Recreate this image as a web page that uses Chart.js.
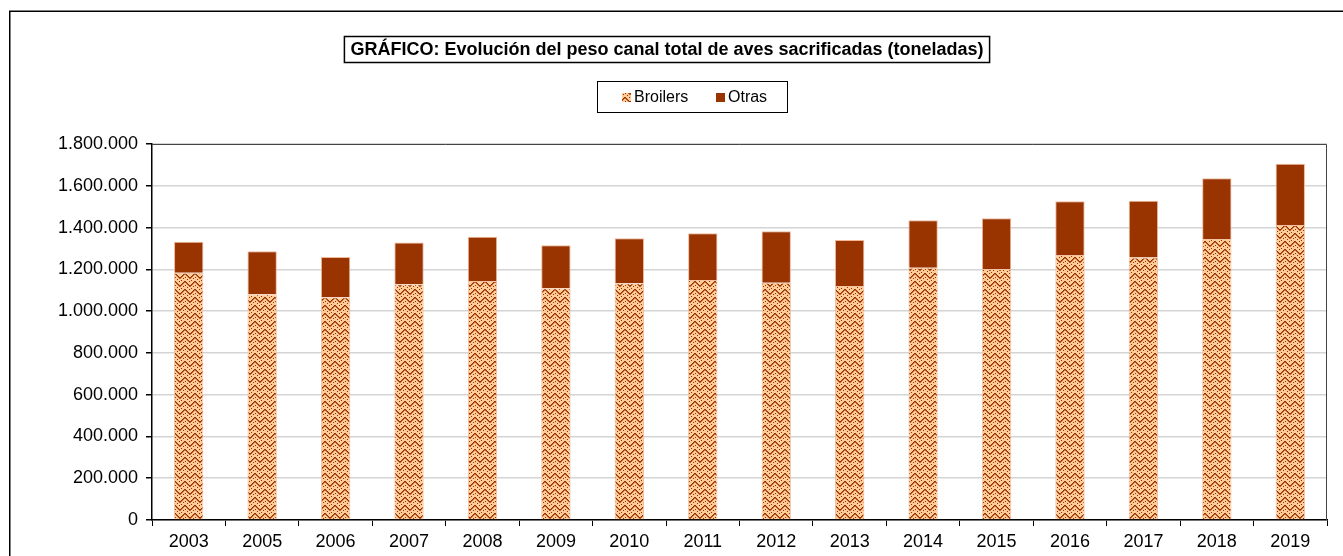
<!DOCTYPE html>
<html>
<head>
<meta charset="utf-8">
<script src="https://cdn.jsdelivr.net/npm/chart.js@4.4.1/dist/chart.umd.min.js"></script>
<style>
  html, body { margin: 0; padding: 0; background: #fff; overflow: hidden; }
  canvas { display: block; }
</style>
</head>
<body>
<canvas id="chart" width="1343" height="556"></canvas>
<script>
// values (toneladas)
const years = ['2003', '2005', '2006', '2007', '2008', '2009', '2010', '2011',
               '2012', '2013', '2014', '2015', '2016', '2017', '2018', '2019'];
const broilers = [1184000, 1081000, 1066000, 1129000, 1144000, 1110000, 1133000, 1149000,
                  1136000, 1120000, 1208000, 1201000, 1269000, 1257000, 1345000, 1412000];
const otras = [148000, 205000, 193000, 199000, 212000, 205000, 216000, 224000,
               246000, 221000, 227000, 244000, 257000, 271000, 291000, 293000];
const yMax = 1800000;
const yStep = 200000;

const titleText = 'GRÁFICO: Evolución del peso canal total de aves sacrificadas (toneladas)';
const seriesNames = ['Broilers', 'Otras'];

const DARK = '#993300';
const MID = '#c0602a';
const LIGHT = '#ffcc99';

function formatThousands(v) {
    return String(v).replace(/\B(?=(\d{3})+(?!\d))/g, '.');
}

// chevron fill, close to the old excel pattern
function makeZigzag(ctx) {
    const tile = document.createElement('canvas');
    tile.width = 10;
    tile.height = 8;
    const g = tile.getContext('2d');
    g.fillStyle = LIGHT;
    g.fillRect(0, 0, 10, 8);
    for (let x = 0; x < 10; x++) {
        const y = Math.floor(Math.abs(x - 4.5)) + 1;
        g.fillStyle = DARK;
        g.fillRect(x, y, 1, 1);
        g.fillStyle = MID;
        g.fillRect(x, (y + 1) % 8, 1, 1);
        if (x % 2 === 1) {
            g.fillStyle = DARK;
            g.fillRect(x, (y + 4) % 8, 1, 1);
        }
    }
    return ctx.createPattern(tile, 'repeat');
}

// frame, title box, legend box and plot frame
const decorations = {
    id: 'decorations',
    afterDraw(chart) {
        const ctx = chart.ctx;
        const area = chart.chartArea;
        ctx.save();

        // outer frame
        ctx.strokeStyle = '#000';
        ctx.lineWidth = 1.5;
        ctx.strokeRect(9.75, 11.25, 2000, 2000);

        // plot frame top / right
        ctx.strokeStyle = '#444';
        ctx.lineWidth = 1;
        ctx.beginPath();
        ctx.moveTo(area.left, area.top + 0.5);
        ctx.lineTo(area.right - 0.5, area.top + 0.5);
        ctx.lineTo(area.right - 0.5, area.bottom);
        ctx.stroke();

        // title
        ctx.font = 'bold 18px "Liberation Sans", Arial, sans-serif';
        ctx.textBaseline = 'middle';
        ctx.textAlign = 'center';
        ctx.fillStyle = '#000';
        const cx = 667;
        const tw = ctx.measureText(titleText).width;
        ctx.lineWidth = 1.5;
        ctx.strokeStyle = '#000';
        ctx.strokeRect(cx - tw / 2 - 6, 36.5, tw + 12, 26);
        ctx.fillText(titleText, cx, 50);

        // legend
        ctx.lineWidth = 1;
        ctx.strokeStyle = '#000';
        ctx.strokeRect(597.5, 81.5, 190, 31);
        ctx.font = '16px "Liberation Sans", Arial, sans-serif';
        ctx.textAlign = 'left';
        const items = [
            { x: 622, fill: chart.data.datasets[0].backgroundColor },
            { x: 716, fill: chart.data.datasets[1].backgroundColor }
        ];
        items.forEach((it, i) => {
            ctx.fillStyle = it.fill;
            ctx.fillRect(it.x, 93, 9, 9);
            ctx.fillStyle = '#000';
            ctx.fillText(seriesNames[i], it.x + 12, 98);
        });

        ctx.restore();
    }
};

const canvas = document.getElementById('chart');
const ctx = canvas.getContext('2d');
const zigzag = makeZigzag(ctx);

new Chart(ctx, {
    type: 'bar',
    data: {
        labels: years,
        datasets: [
            {
                label: seriesNames[0],
                data: broilers,
                backgroundColor: zigzag,
                borderColor: '#f3c3a3',
                borderWidth: 1,
                categoryPercentage: 1,
                barPercentage: 0.4
            },
            {
                label: seriesNames[1],
                data: otras,
                backgroundColor: DARK,
                borderColor: '#f0b898',
                borderWidth: 1,
                categoryPercentage: 1,
                barPercentage: 0.4
            }
        ]
    },
    options: {
        responsive: false,
        animation: false,
        layout: { padding: { top: 144, right: 16, bottom: 0, left: 0 } },
        plugins: {
            legend: { display: false },
            title: { display: false },
            tooltip: { enabled: false }
        },
        scales: {
            x: {
                stacked: true,
                afterFit(scale) { scale.height = 36; },
                grid: {
                    offset: true,
                    drawOnChartArea: false,
                    tickLength: 6,
                    tickColor: '#000'
                },
                border: { color: '#000', width: 1.5 },
                ticks: {
                    color: '#000',
                    padding: 5,
                    maxRotation: 0,
                    font: { family: '"Liberation Sans", Arial, sans-serif', size: 18 }
                }
            },
            y: {
                stacked: true,
                min: 0,
                max: yMax,
                afterFit(scale) { scale.width = 152; },
                grid: {
                    color: '#d4d4d4',
                    lineWidth: 1.5,
                    tickLength: 6,
                    tickColor: '#000'
                },
                border: { color: '#000', width: 1.5 },
                ticks: {
                    stepSize: yStep,
                    color: '#000',
                    padding: 8,
                    font: { family: '"Liberation Sans", Arial, sans-serif', size: 18 },
                    callback: v => formatThousands(v)
                }
            }
        }
    },
    plugins: [decorations]
});
</script>
</body>
</html>
